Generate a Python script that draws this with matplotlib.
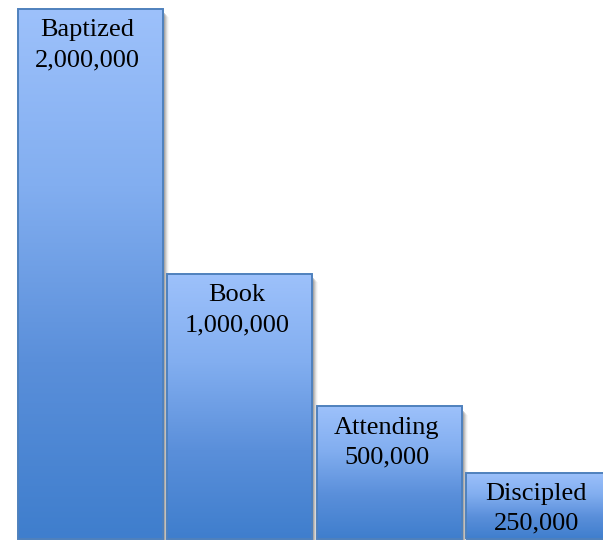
import numpy as np
import matplotlib
matplotlib.use("Agg")
import matplotlib.pyplot as plt
from matplotlib.colors import LinearSegmentedColormap
from matplotlib.patches import Rectangle

categories = ["Baptized", "Book", "Attending", "Discipled"]
values = [2000000, 1000000, 500000, 250000]
value_labels = ["2,000,000", "1,000,000", "500,000", "250,000"]

fig = plt.figure(figsize=(6.03, 5.40), dpi=100)
ax = fig.add_axes([0, 0, 1, 1])
XLIM = (-0.605, 3.428)
YLIM = (-3774, 2033962)
ax.axis("off")

cmap = LinearSegmentedColormap.from_list("g", ["#3f7ecd", "#5a8fda", "#82aef0", "#9dc1fb"])
grad = np.linspace(0, 1, 256).reshape(-1, 1)
width = 0.97
px = 1 / 149.5
x = np.arange(len(categories))
bars = ax.bar(x, values, width=width, color="none", edgecolor="#4f81bd", linewidth=1.4, zorder=3)
for b, xi, v in zip(bars, x, values):
    x0 = xi - width / 2
    # soft shadow on right / bottom
    for k, a in zip(range(1, 7), [0.45, 0.35, 0.25, 0.16, 0.09, 0.05]):
        sh = Rectangle((x0 + k * px, YLIM[0]), width, v - YLIM[0] - (k + 2) * 3774,
                       facecolor="#7a7a7a", edgecolor="none", alpha=a, zorder=1)
        ax.add_patch(sh)
    im = ax.imshow(grad, extent=[x0, x0 + width, 0, v], origin="lower", cmap=cmap,
                   aspect="auto", zorder=2)
    im.set_clip_path(b)
ax.set_xlim(*XLIM)
ax.set_ylim(*YLIM)

for xi, v, c, l in zip(x, values, categories, value_labels):
    ax.annotate(c + "\n" + l, xy=(xi, v), xytext=(-2, -7.5), textcoords="offset points",
                ha="center", va="top", fontsize=19, family="Liberation Serif",
                linespacing=1.45, zorder=5)

fig.savefig("out.png", dpi=100)
